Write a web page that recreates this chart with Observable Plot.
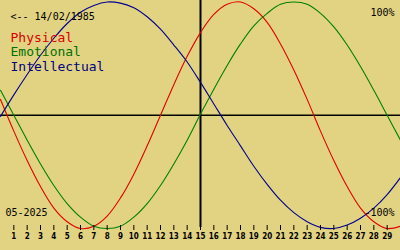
<!DOCTYPE html>
<html>
<head>
<meta charset="utf-8">
<script src="https://cdn.jsdelivr.net/npm/d3@7"></script>
<script src="https://cdn.jsdelivr.net/npm/@observablehq/plot@0.6"></script>
<style>
  html, body { margin: 0; padding: 0; background: #e2d383; }
</style>
</head>
<body>
<div id="chart"></div>
<script>
const days = [0,1,2,3,4,5,6,7,8,9,10,11,12,13,14,15,16,17,18,19,20,21,22,23,24,25,26,27,28,29,30];
const physical = [14,-14,-40,-63,-82,-94,-100,-98,-89,-73,-52,-27,0,27,52,73,89,98,100,94,82,63,40,14,-14,-40,-63,-82,-94,-100,-98];
const emotional = [22,0,-22,-43,-62,-78,-90,-98,-100,-98,-90,-78,-62,-43,-22,1,23,44,63,79,90,98,100,98,90,78,62,43,22,0,-22];
const intellectual = [-1,18,36,53,68,81,91,97,100,99,95,87,76,62,47,29,10,-9,-27,-45,-61,-75,-86,-94,-99,-100,-97,-91,-82,-70,-55];
const tickDays = [1,2,3,4,5,6,7,8,9,10,11,12,13,14,15,16,17,18,19,20,21,22,23,24,25,26,27,28,29];
const seriesNames = ["Physical", "Emotional", "Intellectual"];
const seriesColors = ["#e00000", "#008000", "#000090"];
const legendColors = ["#d80000", "#007000", "#000080"];
const birthLabel = "<-- 14/02/1985";
const monthLabel = "05-2025";
const topLabel = "100%";
const bottomLabel = "-100%";
const centerDay = 15;

const seriesValues = [physical, emotional, intellectual];
const rows = [];
seriesNames.forEach((name, i) => {
  days.forEach((d, j) => rows.push({series: name, day: d, value: seriesValues[i][j]}));
});

const mono = "'DejaVu Sans Mono', 'Liberation Mono', monospace";

const legendMarks = seriesNames.map((name, i) =>
  Plot.text([name], {frameAnchor: "top-left", dx: 10, dy: 32 + i * 14.7, textAnchor: "start", lineAnchor: "top", fontSize: 13, fontFamily: mono, fill: legendColors[i]})
);

const chart = Plot.plot({
  width: 400,
  height: 250,
  marginTop: 0,
  marginRight: 0,
  marginBottom: 25,
  marginLeft: 0,
  style: {background: "#e2d383", overflow: "visible"},
  x: {domain: [0, 30], axis: null},
  y: {domain: [-100, 100], range: [228, 1.5], axis: null},
  color: {domain: seriesNames, range: seriesColors},
  marks: [
    Plot.ruleY([0], {stroke: "#000", strokeWidth: 1.6}),
    Plot.ruleX([centerDay], {stroke: "#000", strokeWidth: 2, insetBottom: -2}),
    Plot.line(rows, {x: "day", y: "value", z: "series", stroke: "series", strokeWidth: 1.1, curve: "catmull-rom"}),
    Plot.axisX({
      ticks: tickDays, tickSize: 5, tickPadding: 3, tickFormat: d => String(d), label: null,
      stroke: "#000", fill: "#000", strokeWidth: 1,
      fontSize: 8, fontWeight: "bold",
      fontFamily: "'Liberation Sans Narrow', 'DejaVu Sans Condensed', 'Liberation Sans', sans-serif"
    }),
    Plot.text([birthLabel], {frameAnchor: "top-left", dx: 10, dy: 12, textAnchor: "start", lineAnchor: "top", fontSize: 10, fontFamily: mono, fill: "#000"}),
    ...legendMarks,
    Plot.text([topLabel], {frameAnchor: "top-right", dx: -6, dy: 8, textAnchor: "end", lineAnchor: "top", fontSize: 10, fontFamily: mono, fill: "#000"}),
    Plot.text([bottomLabel], {frameAnchor: "top-right", dx: -6, dy: 208, textAnchor: "end", lineAnchor: "top", fontSize: 10, fontFamily: mono, fill: "#000", letterSpacing: "-0.5px"}),
    Plot.text([monthLabel], {frameAnchor: "top-left", dx: 5, dy: 208, textAnchor: "start", lineAnchor: "top", fontSize: 10, fontFamily: mono, fill: "#000"})
  ]
});
document.getElementById("chart").append(chart);
</script>
</body>
</html>
